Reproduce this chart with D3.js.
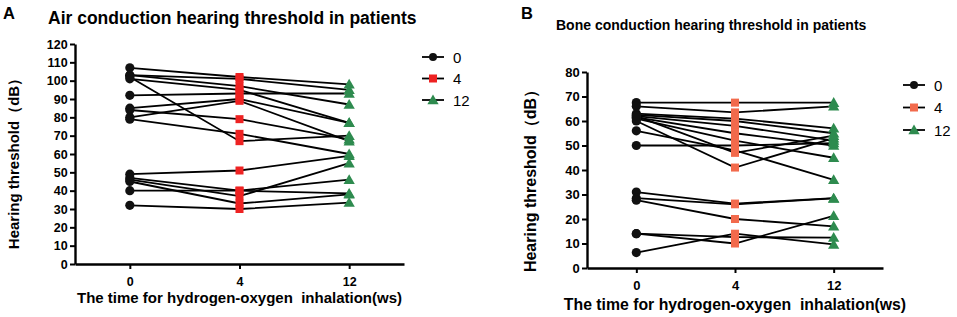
<!DOCTYPE html>
<meta charset="utf-8">
<script src="https://d3js.org/d3.v7.min.js"></script>
<style>
  body { margin: 0; background: #fff; }
  text { font-family: "Liberation Sans", Arial, sans-serif; }
</style>
<div id="chart"></div>
<script>

// time points (weeks)
var times = ["0", "4", "12"];

// panel A: air conduction, one entry per patient
var airT0  = [107, 103, 103, 102, 92, 85, 84, 80, 79, 101, 49, 47, 46, 45, 40, 32];
var airT4  = [102, 101, 97, 67, 93, 90, 79, 89, 71, 95, 51, 40, 37, 33, 40, 30];
var airT12 = [98, 95, 87, 70, 93, 77, 68, 67, 60, 77, 59, 46, 55, 38, 38.5, 33.5];
var airTicks = d3.range(0, 121, 10);

// panel B: bone conduction
var boneT0  = [67.5, 66, 63, 62.5, 62, 61.5, 61, 60, 56, 50, 62, 31, 28.5, 27.7, 14, 14, 6.3];
var boneT4  = [67.5, 63.5, 61, 60, 58, 55, 52, 41, 48, 50, 47, 26.3, 26, 20, 12.6, 10, 14];
var boneT12 = [67.5, 66, 57, 55, 52, 50, 45, 53, 36, 51, 54, 28.5, 28.4, 17, 12.4, 21.3, 9.6];
var boneTicks = d3.range(0, 81, 10);

var svg = d3.select("#chart").append("svg")
  .attr("width", 957)
  .attr("height", 317);

function drawPanel(o) {
  var g = svg.append("g");

  var x = d3.scalePoint().domain(times).range([o.left, o.right]).padding(0.5);
  var y = d3.scaleLinear().domain([0, o.ymax]).range([o.bottom, o.top]);

  // paired lines
  var rows = o.t0.map(function(v, i) { return [v, o.t4[i], o.t12[i]]; });
  var line = d3.line()
    .x(function(d, i) { return x(times[i]); })
    .y(function(d) { return y(d); });
  g.append("g").selectAll("path")
    .data(rows)
    .enter().append("path")
      .attr("d", line)
      .attr("fill", "none")
      .attr("stroke", "#000")
      .attr("stroke-width", 1.8);

  // markers
  g.append("g").selectAll("circle")
    .data(o.t0)
    .enter().append("circle")
      .attr("cx", x("0"))
      .attr("cy", function(d) { return y(d); })
      .attr("r", 4.6)
      .attr("fill", "#111");
  g.append("g").selectAll("rect")
    .data(o.t4)
    .enter().append("rect")
      .attr("x", x("4") - 4)
      .attr("y", function(d) { return y(d) - 4; })
      .attr("width", 8)
      .attr("height", 8)
      .attr("fill", o.sqColor);
  var tri = d3.symbol().type(d3.symbolTriangle).size(55);
  g.append("g").selectAll("path")
    .data(o.t12)
    .enter().append("path")
      .attr("d", tri)
      .attr("transform", function(d) { return "translate(" + x("12") + "," + (y(d) + 1) + ")"; })
      .attr("fill", "#2e8b4f");

  // axes
  var ax = g.append("g")
    .attr("transform", "translate(0," + o.bottom + ")")
    .call(d3.axisBottom(x).tickSize(5).tickSizeOuter(0));
  var ay = g.append("g")
    .attr("transform", "translate(" + o.left + ",0)")
    .call(d3.axisLeft(y).tickValues(o.ticks).tickSize(5).tickSizeOuter(0));
  [ax, ay].forEach(function(a) {
    a.select(".domain").attr("stroke-width", 2.4);
    a.selectAll(".tick line").attr("stroke-width", 2);
    a.selectAll("text")
      .attr("font-family", "'Liberation Sans', Arial, sans-serif")
      .attr("font-weight", "bold")
      .attr("font-size", o.tickFont)
      .attr("fill", "#000");
  });
  ax.selectAll("text").attr("dy", "1.1em");
  ay.selectAll("text").attr("dx", "0.05em");

  // titles
  g.append("text")
    .attr("x", o.letterX).attr("y", 19)
    .attr("font-weight", "bold").attr("font-size", 16.5)
    .text(o.letter);
  g.append("text")
    .attr("x", o.titleX).attr("y", o.titleY)
    .attr("font-weight", "bold").attr("font-size", o.titleFont)
    .text(o.title);
  g.append("text")
    .attr("x", (o.left + o.right) / 2).attr("y", o.xlabY)
    .attr("text-anchor", "middle")
    .attr("font-weight", "bold").attr("font-size", o.xlabFont)
    .text("The time for hydrogen-oxygen  inhalation(ws)")
    .style("white-space", "pre");
  g.append("text")
    .attr("transform", "translate(" + o.ylabX + "," + o.ylabY + ") rotate(-90)")
    .attr("text-anchor", "middle")
    .attr("font-weight", "bold").attr("font-size", o.ylabFont)
    .text("Hearing threshold（dB）");

  // legend
  var lg = g.append("g").attr("transform", "translate(" + o.legX + "," + o.legY + ")");
  times.forEach(function(t, i) {
    var row = lg.append("g").attr("transform", "translate(0," + (i * o.legStep) + ")");
    row.append("line").attr("x1", -11).attr("x2", 11)
      .attr("stroke", "#000").attr("stroke-width", 1.8);
    if (i == 0) row.append("circle").attr("r", 4).attr("fill", "#111");
    if (i == 1) row.append("rect").attr("x", -4).attr("y", -4).attr("width", 8).attr("height", 8).attr("fill", o.sqColor);
    if (i == 2) row.append("path").attr("d", tri).attr("transform", "translate(0,1)").attr("fill", "#2e8b4f");
    row.append("text").attr("x", 20).attr("y", 5.5)
      .attr("font-size", 15)
      .text(t);
  });
}

drawPanel({
  t0: airT0, t4: airT4, t12: airT12, ticks: airTicks, ymax: 120,
  left: 75, right: 404, top: 44, bottom: 264,
  sqColor: "#ee2222", tickFont: 12.5,
  letter: "A", letterX: 3,
  title: "Air conduction hearing threshold in patients", titleX: 48, titleY: 24, titleFont: 17.5,
  xlabY: 303, xlabFont: 15, ylabX: 19, ylabY: 160, ylabFont: 15,
  legX: 433, legY: 57, legStep: 21.5
});

drawPanel({
  t0: boneT0, t4: boneT4, t12: boneT12, ticks: boneTicks, ymax: 80,
  left: 587, right: 883, top: 72, bottom: 268,
  sqColor: "#f26a4c", tickFont: 13,
  letter: "B", letterX: 521,
  title: "Bone conduction hearing threshold in patients", titleX: 556, titleY: 30, titleFont: 14,
  xlabY: 310, xlabFont: 15.8, ylabX: 536, ylabY: 177, ylabFont: 16,
  legX: 914, legY: 85, legStep: 22.5
});

</script>
